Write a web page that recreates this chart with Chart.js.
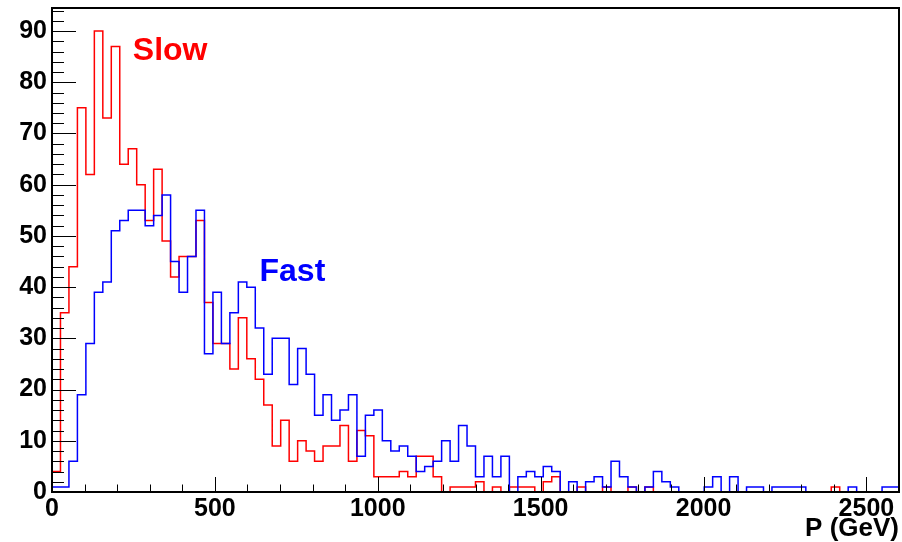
<!DOCTYPE html>
<html>
<head>
<meta charset="utf-8">
<title>P (GeV)</title>
<script src="https://cdn.jsdelivr.net/npm/chart.js@4/dist/chart.umd.min.js"></script>
<style>
  body { margin: 0; background: #fff; }
  .chart-box { width: 902px; height: 542px; }
</style>
</head>
<body>
<div class="chart-box"><canvas id="myChart" width="902" height="542"></canvas></div>
<script>
// histogram binning, 100 bins of 26 GeV
const xMin = 0;
const xMax = 2600;
const binWidth = 26;
const yMax = 94.5;

const xTickValues = [0, 500, 1000, 1500, 2000, 2500];
const yTickValues = [0, 10, 20, 30, 40, 50, 60, 70, 80, 90];

const slowCounts = [
  4, 35, 44, 75, 62, 90, 73, 87, 64, 67,
  60, 53, 63, 49, 42, 46, 46, 53, 37, 29,
  29, 24, 34, 26, 22, 17, 9, 14, 6, 10,
  8, 6, 9, 9, 13, 6, 12, 11, 3, 3,
  3, 4, 3, 7, 7, 3, 0, 1, 1, 1,
  2, 0, 1, 0, 1, 1, 1, 0, 2, 3,
  0, 0, 1, 0, 0, 1, 0, 0, 1, 0,
  1, 0, 0, 0, 0, 0, 0, 0, 0, 0,
  0, 0, 0, 0, 0, 0, 0, 0, 0, 0,
  0, 0, 1, 0, 0, 0, 0, 0, 0, 0
];

const fastCounts = [
  1, 1, 6, 19, 29, 39, 41, 51, 53, 55,
  55, 52, 54, 58, 45, 39, 46, 55, 27, 39,
  29, 35, 41, 40, 32, 23, 30, 30, 21, 28,
  23, 15, 19, 14, 16, 19, 7, 15, 16, 10,
  8, 9, 7, 4, 5, 6, 10, 6, 13, 9,
  3, 7, 3, 7, 0, 3, 4, 3, 5, 4,
  0, 2, 0, 2, 3, 1, 6, 3, 1, 0,
  1, 4, 2, 1, 0, 0, 0, 1, 3, 0,
  3, 0, 1, 1, 0, 1, 1, 1, 1, 0,
  0, 0, 0, 0, 1, 0, 0, 0, 1, 1
];

const fontFamily = '"Liberation Sans", Arial, sans-serif';
const tickFont = { family: fontFamily, size: 25, weight: 'bold' };

// bin low edges + closing point at the last edge
function toSteps(counts) {
  const points = counts.map((c, i) => ({ x: xMin + i * binWidth, y: c }));
  points.push({ x: xMin + counts.length * binWidth, y: counts[counts.length - 1] });
  return points;
}

// ROOT style: frame plus ticks pointing into the pad
const frameAndTicks = {
  id: 'frameAndTicks',
  afterDatasetsDraw: function(chart) {
    const ctx = chart.ctx;
    const area = chart.chartArea;
    const xs = chart.scales.x;
    const ys = chart.scales.y;
    ctx.save();
    ctx.strokeStyle = '#000';
    ctx.lineWidth = 1;
    ctx.beginPath();
    for (let v = xMin; v <= xMax; v += 100) {
      const len = v % 500 === 0 ? 15 : 7.5;
      const px = Math.round(xs.getPixelForValue(v)) + 0.5;
      ctx.moveTo(px, area.bottom);
      ctx.lineTo(px, area.bottom - len);
    }
    for (let v = 0; v <= yMax; v += 2) {
      const len = v % 10 === 0 ? 24 : 12;
      const py = Math.round(ys.getPixelForValue(v)) + 0.5;
      ctx.moveTo(area.left, py);
      ctx.lineTo(area.left + len, py);
    }
    ctx.stroke();
    ctx.lineWidth = 2;
    ctx.strokeRect(area.left, area.top, area.right - area.left, area.bottom - area.top);
    ctx.restore();
  }
};

const labels = {
  id: 'labels',
  afterDraw: function(chart) {
    const ctx = chart.ctx;
    const xs = chart.scales.x;
    const ys = chart.scales.y;
    ctx.save();
    ctx.textBaseline = 'alphabetic';
    ctx.font = 'bold 32px ' + fontFamily;
    ctx.fillStyle = '#ff0000';
    ctx.fillText('Slow', xs.getPixelForValue(248), ys.getPixelForValue(84.3));
    ctx.fillStyle = '#0000ff';
    ctx.fillText('Fast', xs.getPixelForValue(637), ys.getPixelForValue(41.2));
    ctx.font = 'bold 26px ' + fontFamily;
    ctx.fillStyle = '#000';
    ctx.textAlign = 'right';
    ctx.fillText('P (GeV)', chart.chartArea.right, 536);
    ctx.restore();
  }
};

const app = {
  initChart: function() {
    const ctx = document.querySelector('#myChart').getContext('2d');

    // eslint-disable-next-line no-undef
    new Chart(ctx, {
      type: 'line',
      data: {
        datasets: [{
          label: 'Fast',
          data: toSteps(fastCounts),
          borderColor: '#0000ff',
          borderWidth: 1.5,
          stepped: 'before',
          pointRadius: 0,
          fill: false,
          order: 0
        },
        {
          label: 'Slow',
          data: toSteps(slowCounts),
          borderColor: '#ff0000',
          borderWidth: 1.5,
          stepped: 'before',
          pointRadius: 0,
          fill: false,
          order: 1
        }]
      },
      options: {
        responsive: false,
        animation: false,
        layout: { padding: { top: 8, right: 3, left: 0, bottom: 0 } },
        plugins: {
          legend: { display: false },
          tooltip: { enabled: false }
        },
        scales: {
          x: {
            type: 'linear',
            min: xMin,
            max: xMax,
            grid: { display: false, drawTicks: false },
            border: { display: false },
            ticks: {
              font: tickFont, color: '#000', padding: 2, autoSkip: false, maxRotation: 0,
              callback: v => String(v)
            },
            afterBuildTicks: function(scale) {
              scale.ticks = xTickValues.map(v => ({ value: v }));
            },
            afterFit: function(scale) {
              scale.height = 50;
              scale.paddingRight = 0;
            }
          },
          y: {
            min: 0,
            max: yMax,
            grid: { display: false, drawTicks: false },
            border: { display: false },
            ticks: { font: tickFont, color: '#000', padding: 5, callback: v => String(v) },
            afterBuildTicks: function(scale) {
              scale.ticks = yTickValues.map(v => ({ value: v }));
            },
            afterFit: function(scale) {
              scale.width = 52;
              scale.paddingTop = 0;
              scale.paddingBottom = 0;
            }
          }
        }
      },
      plugins: [frameAndTicks, labels]
    });
  },

  start: function() {
    this.initChart();
  }
};

app.start();
</script>
</body>
</html>
